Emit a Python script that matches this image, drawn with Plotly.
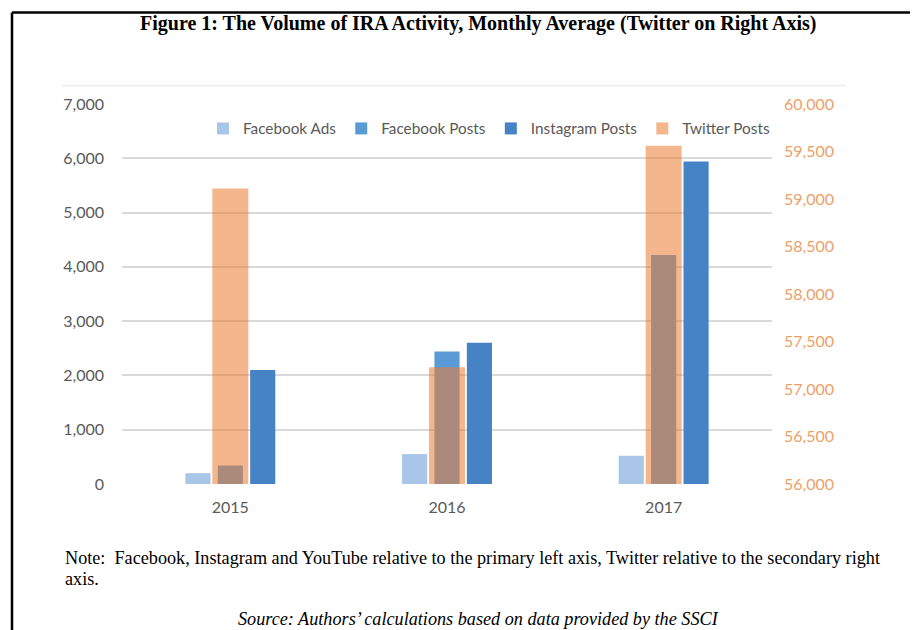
import plotly.graph_objects as go

years = ["2015", "2016", "2017"]
facebook_ads = [200, 550, 520]
facebook_posts = [340, 2440, 4220]
instagram_posts = [2100, 2600, 5940]
twitter_posts = [59110, 57230, 59560]

left_ticks = [0, 1000, 2000, 3000, 4000, 5000, 6000, 7000]
right_ticks = [56000, 56500, 57000, 57500, 58000, 58500, 59000, 59500, 60000]

# page body has an 8px margin, so work in reference pixels shifted by 8
OFF = 8
W, H = 918 - OFF, 630 - OFF
L, R, T, B = 122 - OFF, 772 - OFF, 103.5 - OFF, 484 - OFF


def px(x):
    return (x - OFF - L) / (R - L)


def py(y):
    return (B - (y - OFF)) / (B - T)


FONT = "Lato"
fig = go.Figure()
fig.add_trace(go.Bar(x=years, y=facebook_ads, name="Facebook Ads",
                     marker=dict(color="#A9C6E8", line=dict(width=0)),
                     width=0.116, offset=-0.2075))
fig.add_trace(go.Bar(x=years, y=facebook_posts, name="Facebook Posts",
                     marker=dict(color="#5B9BD5", line=dict(width=0)),
                     width=0.116, offset=-0.058))
fig.add_trace(go.Bar(x=years, y=instagram_posts, name="Instagram Posts",
                     marker=dict(color="#4683C4", line=dict(width=0)),
                     width=0.116, offset=0.0915))
fig.add_trace(go.Bar(x=years, y=twitter_posts, name="Twitter Posts", yaxis="y2",
                     marker=dict(color="rgba(236,125,52,0.56)", line=dict(width=0)),
                     width=0.166, offset=-0.083))

shapes = [
    dict(type="line", xref="paper", yref="paper", x0=px(12), x1=px(930), y0=py(12), y1=py(12),
         line=dict(color="black", width=2.5)),
    dict(type="line", xref="paper", yref="paper", x0=px(12), x1=px(12), y0=py(12), y1=py(640),
         line=dict(color="black", width=2.5)),
    dict(type="line", xref="paper", yref="paper", x0=px(62), x1=px(846), y0=py(85), y1=py(85),
         line=dict(color="#EDEDED", width=1.5)),
]

annotations = [
    dict(text="<b>Figure 1: The Volume of IRA Activity, Monthly Average (Twitter on Right Axis)</b>",
         xref="paper", yref="paper", x=px(478), y=py(23), xanchor="center", yanchor="middle",
         showarrow=False, font=dict(family="Liberation Serif", size=20, color="black")),
    dict(text="Note:&nbsp; Facebook, Instagram and YouTube relative to the primary left axis, Twitter relative to the secondary right",
         xref="paper", yref="paper", x=px(63), y=py(558), xanchor="left", yanchor="middle",
         showarrow=False, font=dict(family="Liberation Serif", size=18.2, color="black")),
    dict(text="axis.",
         xref="paper", yref="paper", x=px(63), y=py(579), xanchor="left", yanchor="middle",
         showarrow=False, font=dict(family="Liberation Serif", size=18.2, color="black")),
    dict(text="<i>Source: Authors’ calculations based on data provided by the SSCI</i>",
         xref="paper", yref="paper", x=px(478), y=py(619), xanchor="center", yanchor="middle",
         showarrow=False, font=dict(family="Liberation Serif", size=18.2, color="black")),
]

fig.update_layout(
    width=W, height=H,
    margin=dict(l=L, r=W - R, t=T, b=H - B, pad=0),
    paper_bgcolor="white", plot_bgcolor="white",
    barmode="overlay",
    font=dict(family=FONT, color="#595959", size=16),
    showlegend=True,
    legend=dict(orientation="h", x=px(203), y=py(128), xanchor="left", yanchor="middle",
                bgcolor="rgba(0,0,0,0)", font=dict(family=FONT, size=15.3, color="#595959"),
                traceorder="normal"),
    xaxis=dict(type="category", showgrid=False, zeroline=False, showline=False,
               ticks="", tickfont=dict(family=FONT, size=16, color="#595959"),
               ticklabelstandoff=12),
    yaxis=dict(range=[0, 7000], tickvals=left_ticks, tickformat=",", showgrid=True,
               gridcolor="#D9D9D9", gridwidth=1.5, zeroline=False, showline=False,
               ticks="", tickfont=dict(family=FONT, size=16, color="#595959"),
               ticklabelstandoff=17),
    yaxis2=dict(range=[56000, 60000], tickvals=right_ticks, tickformat=",", overlaying="y",
                side="right", showgrid=False, zeroline=False, showline=False, ticks="",
                tickfont=dict(family=FONT, size=16, color="#EE9F68"),
                ticklabelstandoff=11),
    shapes=shapes,
    annotations=annotations,
)

fig.write_html("out.html")
